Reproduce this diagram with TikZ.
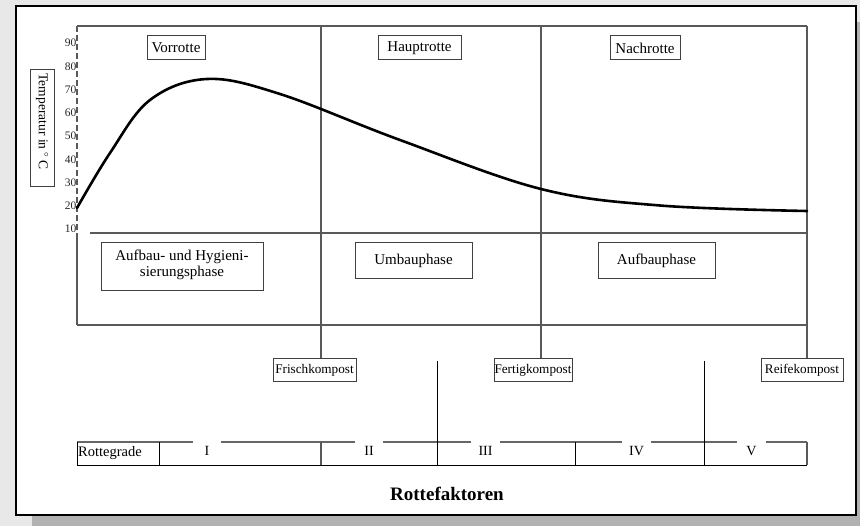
\documentclass[tikz,border=0pt]{standalone}
\usepackage{fontspec}
\setmainfont{Liberation Serif}
\begin{document}
\begin{tikzpicture}[x=1pt,y=-1pt,
  frameline/.style={draw=black!65, line width=1.1pt},
  box/.style={draw=black!75, line width=1pt, rectangle, inner sep=0pt, align=center,
    font=\fontsize{15}{15.5}\selectfont},
  smallbox/.style={box, font=\fontsize{13.2}{15}\selectfont},
  tick/.style={font=\fontsize{11.5}{12}\selectfont, text=black!85, anchor=east, inner sep=0pt},
  numeral/.style={font=\fontsize{14}{16}\selectfont, inner sep=0pt},
  tabtop/.style={draw=black!60, line width=1.3pt},
  tabline/.style={draw=black, line width=0.9pt}
]
% page with shadow
\useasboundingbox (0,0) rectangle (860,526);
\fill[black!9] (0,0) rectangle (860,526);
\fill[black!30] (32,22) rectangle (860,526);
\filldraw[fill=white, draw=black, line width=1.8pt] (16,6) rectangle (856,515);

% chart frame
\coordinate (tl) at (77,26);
\coordinate (tr) at (807,26);
\coordinate (d1) at (321,26);
\coordinate (d2) at (541,26);
\draw[frameline] (tl) -- (tr);
\draw[frameline] (90,233) -- (807,233);
\draw[frameline] (77,325) -- (807,325);
\draw[frameline, dash pattern=on 6pt off 3pt] (tl) -- (77,233);
\draw[frameline] (77,233) -- (77,325);

% axis labels
\foreach \v [count=\i from 0] in {90,80,70,60,50,40,30,20,10}
  \node[tick] (t\v) at (76.5,{43+23.25*\i}) {\v};

% phase boxes
\node[box, minimum width=58, minimum height=24] (vor) at (176,48) {Vorrotte};
\node[box, minimum width=83, minimum height=24] (haupt) at (419.5,48) {Hauptrotte};
\node[box, minimum width=70, minimum height=24] (nach) at (645,48) {Nachrotte};
\node[box, rotate=-90, minimum width=117, minimum height=24, font=\fontsize{13.5}{15}\selectfont]
  (temp) at (42,128.5) {Temperatur in $^\circ$\,C\hspace*{14pt}};

\node[box, minimum width=162, minimum height=48, text depth=8pt, inner ysep=3pt] (hyg) at (182,267)
  {Aufbau- und Hygieni-\\sierungsphase};
\node[box, minimum width=117, minimum height=36] (umbau) at (413.5,261) {Umbauphase};
\node[box, minimum width=117, minimum height=36] (aufbau) at (656.5,261) {Aufbauphase};

% compost stages
\node[smallbox, minimum width=83, minimum height=23] (frisch) at (314.5,370.5) {Frischkompost};
\node[smallbox, minimum width=78, minimum height=23] (fertig) at (533,370.5) {Fertigkompost};
\node[smallbox, minimum width=82, minimum height=23] (reife) at (802,370.5) {Reifekompost};

\draw[frameline] (d1) -- (frisch.north -| d1);
\draw[frameline] (d2) -- (fertig.north -| d2);
\draw[frameline] (tr) -- (reife.north -| tr);

% temperature curve
\draw[line width=2.6pt, line cap=round] plot[smooth, tension=0.6] coordinates {
  (77,208) (110,153) (150,100) (207,79) (280,94)
  (400,140) (541,189) (660,205.5) (807,211)};

% Rottegrade table
\coordinate (b1) at (437,361);
\coordinate (b2) at (704,361);
\node[font=\fontsize{14.5}{16}\selectfont, anchor=west, inner sep=1pt] (rg) at (77,453.5) {Rottegrade};
\node[numeral] (n1) at (207,451) {I};
\node[numeral] (n2) at (369,451) {II};
\node[numeral] (n3) at (485.5,451) {III};
\node[numeral] (n4) at (636.5,451) {IV};
\node[numeral] (n5) at (751.5,451) {V};

\draw[tabtop] (77,442) -- (193,442) (221,442) -- (355,442) (383,442) -- (471,442)
  (500,442) -- (622,442) (651,442) -- (737,442) (766,442) -- (807,442);
\draw[tabline] (77,465) -- (807,465);
\draw[tabline] (77,442) -- (77,465);
\draw[tabline] (159,442) -- (159,465);
\draw[draw=black!65, line width=1.1pt] (321,442) -- (321,465);
\draw[tabline] (b1) -- (437,465);
\draw[tabline] (575,442) -- (575,465);
\draw[tabline] (b2) -- (704,465);
\draw[draw=black!65, line width=1.1pt] (807,442) -- (807,465);

\node[font=\bfseries\fontsize{19}{22}\selectfont] (titel) at (447,494) {Rottefaktoren};
\end{tikzpicture}
\end{document}
